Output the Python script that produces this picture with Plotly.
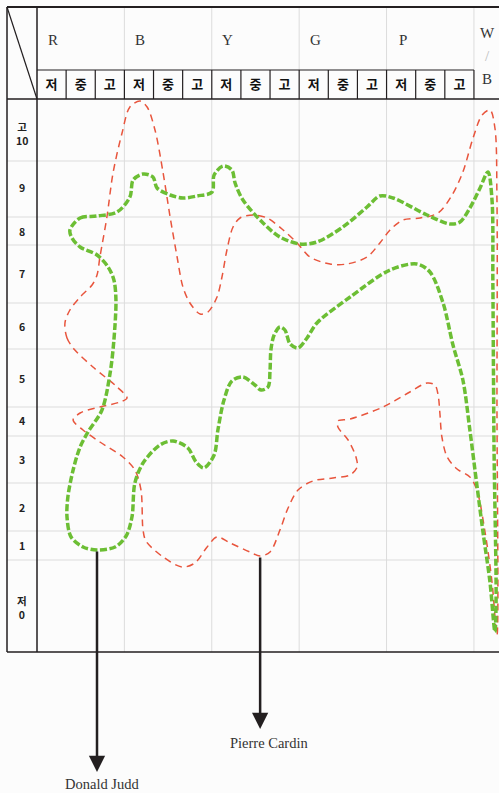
import plotly.graph_objects as go

# ---------------- data ----------------
SUB_LABELS = ["저", "중", "고"]
GROUP_LABELS = ["R", "B", "Y", "G", "P"]
EXTRA_LABELS = ["W", "/", "B"]
ROW_LABELS = ["고<br>10", "9", "8", "7", "6", "5", "4", "3", "2", "1", "저<br>0"]
ROW_LABEL_Y = [51.9, 46.5, 42.1, 37.9, 32.6, 27.4, 23.2, 19.3, 14.5, 10.7, 4.5]
ROW_EDGES = [49.1, 43.5, 40.7, 34.9, 30.3, 24.5, 21.6, 16.9, 12.1, 9.2]
GROUP_EDGES = [3, 6, 9, 12, 15]

RED_X = [0.96, 1.03, 1.30, 1.92, 2.75, 3.09, 2.85, 2.16, 1.48, 1.24, 1.58, 2.16, 2.95, 3.36, 3.57,
         3.64, 3.74, 4.33, 4.98, 5.42, 5.84, 6.18, 6.63, 7.31, 7.66, 8.00, 8.34, 8.62, 8.96, 9.47,
         10.16, 10.75, 10.99, 10.95, 10.68, 10.33, 10.33, 10.75, 11.88, 12.80, 13.39, 13.66, 13.77,
         13.83, 13.90, 14.08, 14.42, 14.86, 15.10, 15.38, 15.62, 15.79, 15.79, 15.79, 15.72, 15.55,
         15.28, 14.97, 14.62, 14.25, 13.77, 13.15, 12.56, 12.12, 11.77, 11.33, 10.64, 10.06, 9.37,
         8.93, 8.45, 7.90, 7.42, 6.97, 6.73, 6.52, 6.35, 6.18, 5.87, 5.60, 5.25, 5.01, 4.81, 4.57,
         4.33, 4.05, 3.78, 3.54, 3.19, 2.92, 2.61, 2.40, 2.16, 2.06, 1.89, 1.48, 1.13, 0.96]
RED_Y = [32.9, 31.4, 30.2, 28.5, 26.5, 25.4, 25.0, 24.5, 23.9, 23.2, 22.2, 21.0, 19.5, 18.2, 16.2,
         12.2, 11.1, 9.5, 8.5, 8.9, 10.5, 11.5, 10.9, 10.0, 9.6, 10.0, 12.2, 14.4, 16.2, 17.1,
         17.4, 17.7, 18.5, 19.5, 21.2, 22.5, 23.1, 23.3, 24.5, 26.0, 26.9, 26.7, 25.7,
         23.9, 21.5, 19.5, 18.3, 17.5, 16.2, 12.0, 7.0, 1.7, 25.2, 45.2, 52.4, 54.2,
         53.7, 51.4, 48.0, 45.7, 43.9, 43.4, 43.2, 42.2, 40.9, 39.5, 38.8, 38.8, 39.5,
         40.9, 42.2, 43.4, 43.7, 43.4, 42.5, 40.2, 37.5, 35.5, 34.0, 33.8, 34.9, 36.5, 39.5, 43.5,
         47.9, 52.2, 54.5, 55.1, 54.5, 51.9, 47.9, 43.5, 39.5, 37.7, 36.7, 35.5, 34.2, 32.9]

GREEN_X = [1.13, 1.48, 2.06, 2.75, 3.19, 3.30, 3.64, 3.98, 4.12, 4.57, 5.01, 5.49, 6.01, 6.08, 6.39,
           6.69, 6.80, 7.07, 7.76, 8.34, 9.03, 9.61, 10.50, 11.33, 11.77, 12.22, 13.39, 14.18, 14.52,
           14.86, 15.21, 15.48, 15.62, 15.65, 15.69, 15.76, 15.72, 15.55, 15.31, 15.10, 14.86, 14.62,
           14.28, 13.94, 13.49, 13.04, 12.12, 10.75, 9.61, 9.27, 8.96, 8.69, 8.51, 8.34, 8.14, 8.03,
           8.00, 7.93, 7.69, 7.48, 7.07, 6.69, 6.42, 6.21, 6.08, 5.73, 5.46, 5.18, 4.67, 4.22, 3.64,
           3.36, 3.26, 3.06, 2.68, 2.06, 1.58, 1.17, 1.03, 1.06, 1.24, 1.48, 1.75, 2.23, 2.51, 2.64,
           2.71, 2.64, 2.44, 2.06, 1.48, 1.20, 1.13]
GREEN_Y = [42.2, 43.4, 43.6, 44.0, 45.5, 47.2, 47.8, 47.5, 46.4, 45.7, 45.4, 45.6, 46.0, 47.7, 48.6,
           48.2, 46.9, 45.2, 42.9, 41.5, 40.8, 41.0, 42.5, 44.5, 45.6, 45.4, 43.7, 42.8, 43.0,
           44.4, 46.4, 48.0, 45.2, 36.7, 20.2, 5.2, 2.0, 7.0, 12.0, 16.7, 22.2, 27.2,
           30.7, 34.9, 38.0, 38.8, 38.2, 35.5, 32.9, 31.4, 30.4, 30.8, 32.2, 32.5, 31.7, 30.2,
           28.2, 26.5, 26.2, 26.7, 27.5, 27.1, 25.2, 22.2, 19.7, 18.4, 19.0, 20.4, 21.1, 20.7, 18.9,
           16.9, 13.5, 11.6, 10.5, 10.2, 10.5, 11.5, 13.5, 15.5, 18.2, 20.5, 22.0, 24.2, 27.9, 31.2,
           35.2, 37.2, 38.5, 39.7, 40.5, 41.4, 42.2]

ARROW_NAMES = ["Donald Judd", "Pierre Cardin"]
ARROW_X = [2.06, 7.66]
ARROW_FROM_Y = [10.2, 9.6]
ARROW_TO_Y = [-12.0, -7.7]
LABEL_X = [2.23, 7.96]
LABEL_Y = [-13.2, -9.1]

# ---------------- layout constants ----------------
W, H = 499, 793
ML, MT, MB = 37, 99, 141
X_MAX = 15.86
Y_MAX = 55.3
DARK = "#231f20"
FAINT = "#dcdcdc"
BG = "#fcfcfc"
LEFT = -30 / 462          # outer left border (paper)
TOP = 645 / 553           # outer top border (paper)
SUBTOP = 582 / 553        # top of 저/중/고 row (paper)

fig = go.Figure()
fig.add_trace(go.Scatter(x=RED_X, y=RED_Y, mode="lines",
                         line=dict(color="#e8553d", width=1.5, dash="7px,5px", shape="spline", smoothing=0.9),
                         hoverinfo="skip"))
fig.add_trace(go.Scatter(x=GREEN_X, y=GREEN_Y, mode="lines",
                         line=dict(color="#6cbe34", width=3.5, dash="7px,2.5px", shape="spline", smoothing=0.9),
                         hoverinfo="skip"))

shapes = []
def line(x0, y0, x1, y1, xref, yref, color=DARK, width=1.5):
    shapes.append(dict(type="line", x0=x0, y0=y0, x1=x1, y1=y1, xref=xref, yref=yref,
                       line=dict(color=color, width=width), layer="below"))

# faint row grid lines
for e in ROW_EDGES:
    line(LEFT, e, 1, e, "paper", "y", FAINT, 1)
# faint group separators (plot area and header top part)
for g in GROUP_EDGES:
    line(g, 0, g, 1, "x", "paper", FAINT, 1)
    line(g, SUBTOP, g, TOP, "x", "paper", FAINT, 1)
# sub header cells
line(0, SUBTOP, 15, SUBTOP, "x", "paper", DARK, 1.2)
for i in range(1, 16):
    line(i, 1, i, SUBTOP, "x", "paper", DARK, 1.2)
# outer frame
line(LEFT, TOP, 1, TOP, "paper", "paper", DARK, 2)
line(LEFT, 0, 1, 0, "paper", "paper", DARK, 1.5)
line(LEFT, 1, 1, 1, "paper", "paper", DARK, 1.5)
line(LEFT, 0, LEFT, TOP, "paper", "paper", DARK, 1.5)
line(0, 0, 0, TOP, "paper", "paper", DARK, 1.5)
line(LEFT, TOP, 0, 1, "paper", "paper", DARK, 1.2)

ann = []
serif = "Liberation Serif, DejaVu Serif, serif"
for i, g in enumerate(GROUP_LABELS):
    ann.append(dict(x=i * 3 + 0.55, y=612 / 553, xref="x", yref="paper", text=g, showarrow=False,
                    xanchor="center", yanchor="middle",
                    font=dict(family=serif, size=15, color="#333")))
for t, yp, col in zip(EXTRA_LABELS, [619 / 553, 596 / 553, 573 / 553], ["#333", "#bbb", "#333"]):
    ann.append(dict(x=15.45, y=yp, xref="x", yref="paper", text=t, showarrow=False,
                    xanchor="center", yanchor="middle",
                    font=dict(family=serif, size=15, color=col)))
for t, yv in zip(ROW_LABELS, ROW_LABEL_Y):
    ann.append(dict(x=-15 / 462, y=yv, xref="paper", yref="y", text=t, showarrow=False,
                    align="center", xanchor="center", yanchor="middle",
                    font=dict(family="Noto Sans CJK KR", size=10.5, color="#222", weight=700)))
for nm, ax_, y0, y1, lx, ly in zip(ARROW_NAMES, ARROW_X, ARROW_FROM_Y, ARROW_TO_Y, LABEL_X, LABEL_Y):
    ann.append(dict(x=ax_, y=y1, xref="x", yref="y", ax=ax_, ay=y0, axref="x", ayref="y",
                    text="", showarrow=True, arrowhead=2, arrowsize=1.3, arrowwidth=2.5,
                    arrowcolor=DARK))
    ann.append(dict(x=lx, y=ly / Y_MAX, xref="x", yref="paper", text=nm, showarrow=False,
                    xanchor="center", yanchor="middle", borderpad=0,
                    font=dict(family=serif, size=14.5, color="#333")))

fig.update_layout(
    width=W, height=H, margin=dict(l=ML, r=0, t=MT, b=MB, pad=0),
    paper_bgcolor=BG, plot_bgcolor=BG, showlegend=False, hovermode=False,
    shapes=shapes, annotations=ann,
    xaxis=dict(range=[0, X_MAX], side="top", tickmode="array",
               tickvals=[i + 0.5 for i in range(15)], ticktext=SUB_LABELS * 5,
               ticks="", showgrid=False, zeroline=False, showline=False, ticklabelstandoff=6,
               tickfont=dict(family="Noto Sans CJK KR", size=13, color="#111", weight=700),
               fixedrange=True),
    yaxis=dict(range=[0, Y_MAX], showticklabels=False, ticks="", showgrid=False,
               zeroline=False, showline=False, fixedrange=True),
)

fig.write_html("out.html", config={"displayModeBar": False},
               post_script="document.body.style.margin='0';document.body.style.overflow='hidden';"
                           "document.body.style.background='" + BG + "';")
